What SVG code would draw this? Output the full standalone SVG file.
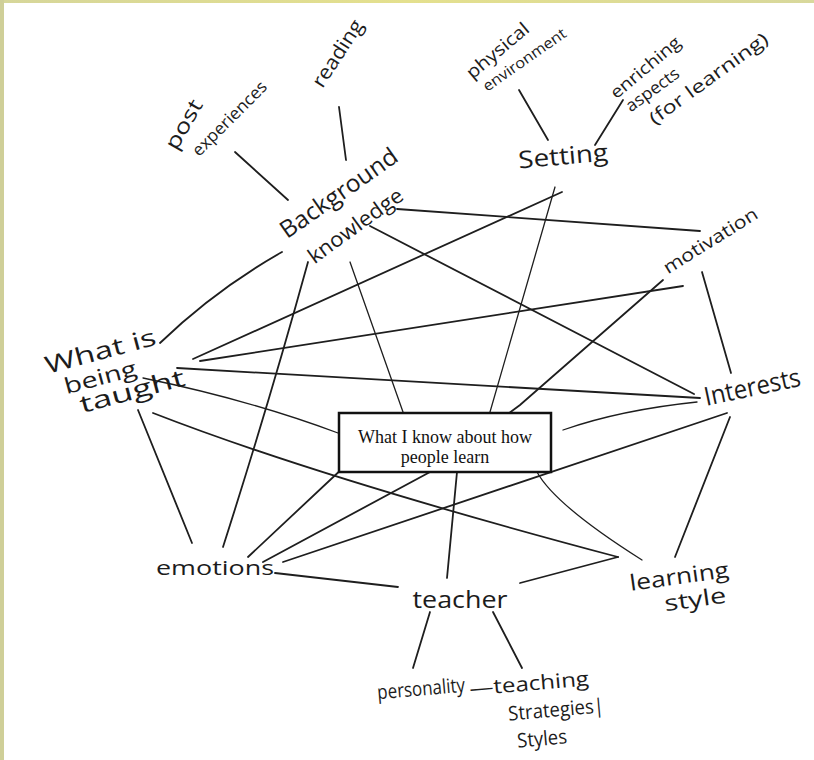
<svg xmlns="http://www.w3.org/2000/svg" width="814" height="760" viewBox="0 0 814 760">
<defs>
<linearGradient id="topg" x1="0" y1="0" x2="1" y2="0">
<stop offset="0" stop-color="#d6d69a"/>
<stop offset="0.5" stop-color="#e4e08e"/>
<stop offset="1" stop-color="#d8d89c"/>
</linearGradient>
</defs>
<style>
.hw{font-family:"Open Sans","Liberation Sans",sans-serif;fill:#1c1c1c;text-anchor:middle;dominant-baseline:central}
.ln{stroke:#1e1e1e;stroke-width:1.8;fill:none;stroke-linecap:round}
.th{stroke-width:1.3}
.box{fill:#ffffff;stroke:#111;stroke-width:2.5}
.bt{font-family:"Liberation Serif","Times New Roman",serif;font-size:18px;fill:#111;text-anchor:middle}
</style>
<rect x="0" y="0" width="814" height="760" fill="#ffffff"/>
<rect x="0" y="0" width="814" height="3" fill="url(#topg)"/>
<rect x="0" y="0" width="4" height="760" fill="#cfcf98"/>

<g id="connectors">
<path class="ln" d="M235,152 L288,200"/>
<path class="ln" d="M339,107 L346,160"/>
<path class="ln" d="M519,90 L548,140"/>
<path class="ln" d="M623,100 L595,145"/>
<path class="ln" d="M562,192 L193,359"/>
<path class="ln th" d="M555,187 L490,412"/>
<path class="ln" d="M397,209 L700,231"/>
<path class="ln" d="M370,226 L694,394"/>
<path class="ln th" d="M350,262 L403,412"/>
<path class="ln" d="M308,262 Q270,400 223,547"/>
<path class="ln" d="M282,252 Q215,290 160,343"/>
<path class="ln" d="M683,286 L200,361"/>
<path class="ln" d="M700,398 L177,368"/>
<path class="ln" d="M663,280 L520,405 L430,472 L263,562"/>
<path class="ln" d="M345,466 L248,557"/>
<path class="ln th" d="M697,402 Q620,410 563,430"/>
<path class="ln" d="M727,413 L283,562"/>
<path class="ln" d="M730,417 L675,557"/>
<path class="ln" d="M702,272 L731,373"/>
<path class="ln th" d="M143,378 Q250,400 338,433"/>
<path class="ln" d="M153,413 Q320,478 618,557"/>
<path class="ln" d="M138,410 L192,543"/>
<path class="ln th" d="M537,472 Q555,505 642,560"/>
<path class="ln" d="M457,472 L447,578"/>
<path class="ln" d="M275,573 L398,587"/>
<path class="ln" d="M520,583 L618,557"/>
<path class="ln" d="M430,612 L413,668"/>
<path class="ln" d="M493,612 L522,668"/>
</g>

<g id="central">
<rect class="box" x="339" y="413" width="212" height="59"/>
<text class="bt" x="445" y="443">What I know about how</text>
<text class="bt" x="445" y="463">people learn</text>
</g>

<g id="past-experiences">
<text class="hw" font-size="21" transform="translate(183,124) rotate(-60)" textLength="54" lengthAdjust="spacingAndGlyphs">post</text>
<text class="hw" font-size="17" transform="translate(229,118) rotate(-45)" textLength="98" lengthAdjust="spacingAndGlyphs">experiences</text>
</g>
<g id="reading">
<text class="hw" font-size="20" transform="translate(337,53) rotate(-57)" textLength="76" lengthAdjust="spacingAndGlyphs">reading</text>
</g>
<g id="background-knowledge">
<text class="hw" font-size="24" transform="translate(338,192) rotate(-35)" textLength="138" lengthAdjust="spacingAndGlyphs">Background</text>
<text class="hw" font-size="21" transform="translate(355,225) rotate(-36)" textLength="112" lengthAdjust="spacingAndGlyphs">knowledge</text>
</g>
<g id="physical-environment">
<text class="hw" font-size="18" transform="translate(497,50) rotate(-40)" textLength="76" lengthAdjust="spacingAndGlyphs">physical</text>
<text class="hw" font-size="15" transform="translate(524,59) rotate(-35)" textLength="98" lengthAdjust="spacingAndGlyphs">environment</text>
</g>
<g id="enriching-aspects">
<text class="hw" font-size="17" transform="translate(645,67) rotate(-40)" textLength="86" lengthAdjust="spacingAndGlyphs">enriching</text>
<text class="hw" font-size="17" transform="translate(652,89) rotate(-36)" textLength="62" lengthAdjust="spacingAndGlyphs">aspects</text>
<text class="hw" font-size="18" transform="translate(708,78) rotate(-36)" textLength="142" lengthAdjust="spacingAndGlyphs">(for learning)</text>
</g>
<g id="setting">
<text class="hw" font-size="24" transform="translate(563,155) rotate(-5)" textLength="90" lengthAdjust="spacingAndGlyphs">Setting</text>
</g>
<g id="motivation">
<text class="hw" font-size="18" transform="translate(710,240) rotate(-32)" textLength="108" lengthAdjust="spacingAndGlyphs">motivation</text>
</g>
<g id="what-is-being-taught">
<text class="hw" font-size="24" transform="translate(100,350) rotate(-15)" textLength="114" lengthAdjust="spacingAndGlyphs">What is</text>
<text class="hw" font-size="22" transform="translate(100,376) rotate(-15)" textLength="74" lengthAdjust="spacingAndGlyphs">being</text>
<text class="hw" font-size="24" transform="translate(132,390) rotate(-15)" textLength="108" lengthAdjust="spacingAndGlyphs">taught</text>
</g>
<g id="interests">
<text class="hw" font-size="26" transform="translate(752,386) rotate(-12)" textLength="98" lengthAdjust="spacingAndGlyphs">Interests</text>
</g>
<g id="learning-style">
<text class="hw" font-size="22" transform="translate(679,575) rotate(-8)" textLength="100" lengthAdjust="spacingAndGlyphs">learning</text>
<text class="hw" font-size="22" transform="translate(695,598) rotate(-8)" textLength="62" lengthAdjust="spacingAndGlyphs">style</text>
</g>
<g id="emotions">
<text class="hw" font-size="20" transform="translate(215,567)" textLength="118" lengthAdjust="spacingAndGlyphs">emotions</text>
</g>
<g id="teacher">
<text class="hw" font-size="24" transform="translate(460,598)" textLength="95" lengthAdjust="spacingAndGlyphs">teacher</text>
</g>
<g id="personality">
<text class="hw" font-size="20" transform="translate(421,688) rotate(-5)" textLength="88" lengthAdjust="spacingAndGlyphs">personality</text>
</g>
<g id="teaching-strategies">
<text class="hw" font-size="20" transform="translate(529,683) rotate(-5)" textLength="120" lengthAdjust="spacingAndGlyphs">—teaching</text>
<text class="hw" font-size="20" transform="translate(556,709) rotate(-5)" textLength="96" lengthAdjust="spacingAndGlyphs">Strategies|</text>
<text class="hw" font-size="20" transform="translate(542,738) rotate(-5)" textLength="50" lengthAdjust="spacingAndGlyphs">Styles</text>
</g>
</svg>
